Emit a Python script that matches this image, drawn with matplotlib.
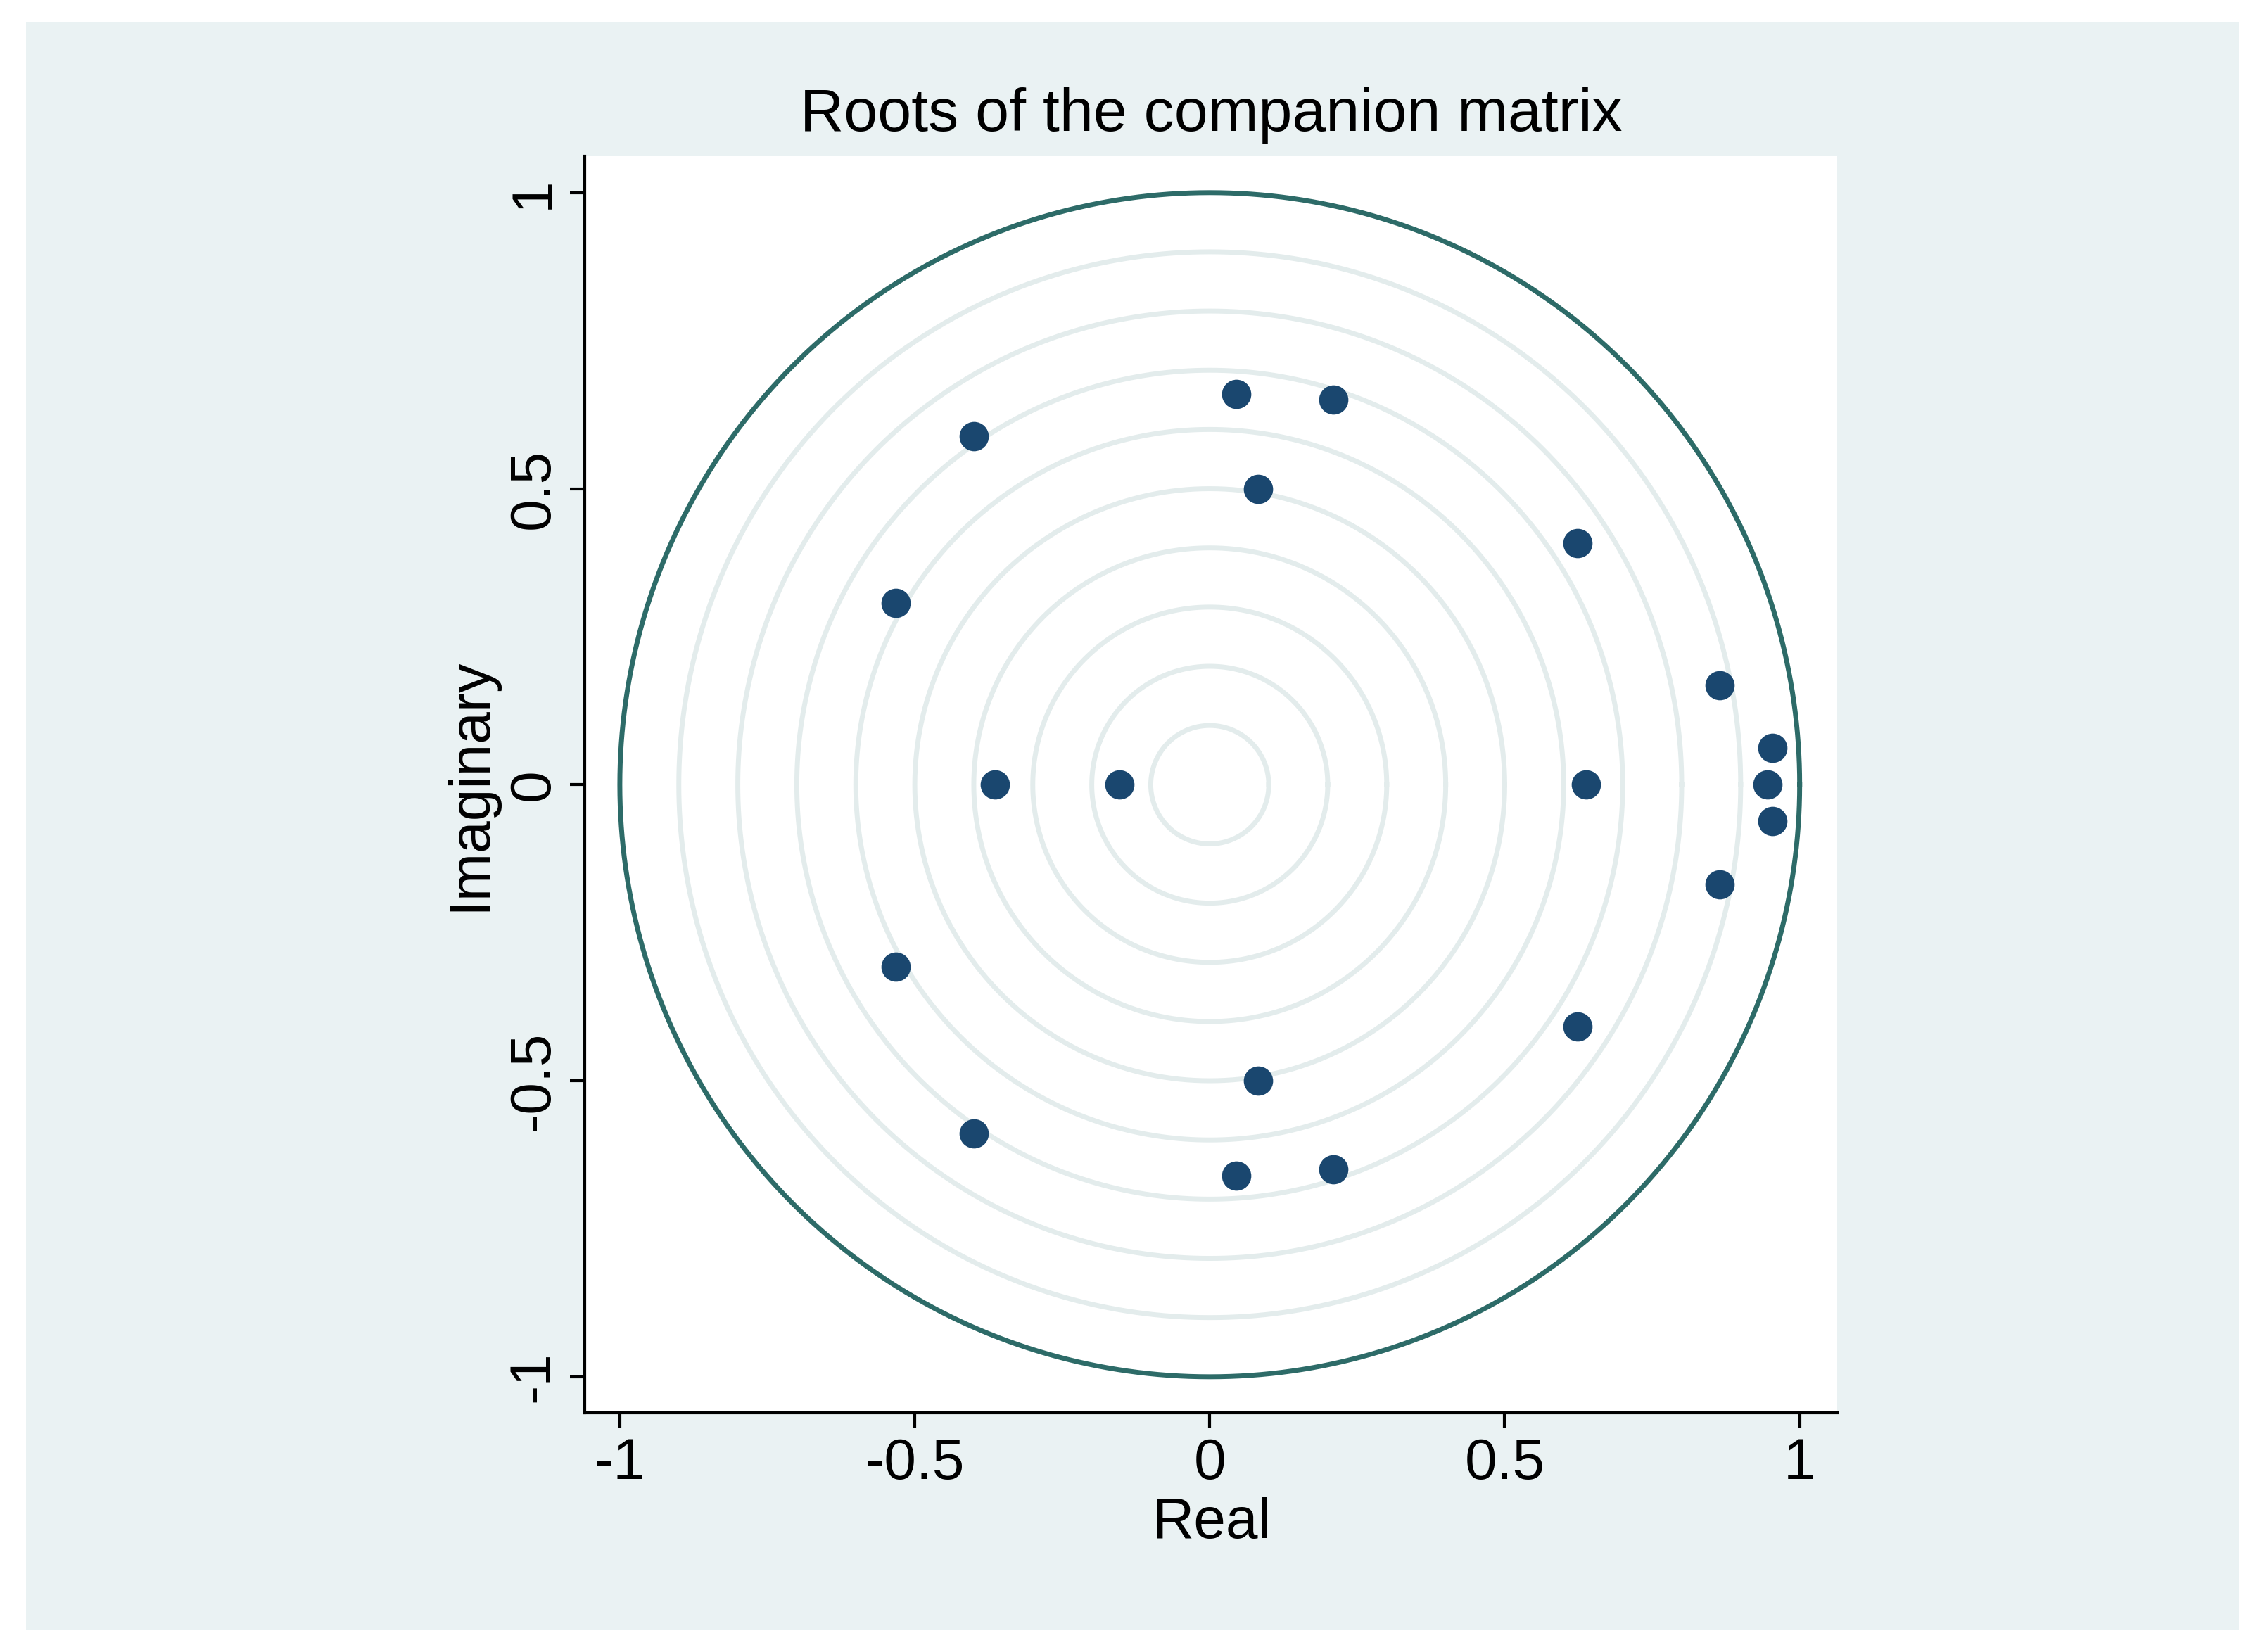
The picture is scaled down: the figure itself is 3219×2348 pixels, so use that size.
import matplotlib
matplotlib.use("Agg")
import matplotlib.pyplot as plt
import numpy as np
from matplotlib.patches import Rectangle

real_upper = [0.045, 0.209, -0.400, 0.082, 0.623, -0.532, 0.865, 0.954]
imag_upper = [0.660, 0.650, 0.589, 0.500, 0.408, 0.307, 0.168, 0.062]
real_axis_roots = [0.946, 0.638, -0.364, -0.153]
ticks = [-1, -0.5, 0, 0.5, 1]
tick_labels = ["-1", "-0.5", "0", "0.5", "1"]
grid_radii = [0.1, 0.2, 0.3, 0.4, 0.5, 0.6, 0.7, 0.8, 0.9]

re = np.array(real_upper + real_upper + real_axis_roots)
im = np.array(imag_upper + [-v for v in imag_upper] + [0.0] * len(real_axis_roots))

plt.rcParams['font.family'] = ['Liberation Sans', 'DejaVu Sans']
fig = plt.figure(figsize=(32.19, 23.48), dpi=100)
fig.patch.set_facecolor("white")
fig.add_artist(Rectangle((18/1568, 15/1140), (1550-18)/1568, (1125-15)/1140,
                         transform=fig.transFigure, facecolor="#EAF2F3", edgecolor="none", zorder=-10))
ax = fig.add_axes([405/1568, 1-975/1140, (1272-405)/1568, (975-108)/1140])
ax.set_facecolor("white")
t = np.linspace(0, 2*np.pi, 721)
for r in grid_radii:
    ax.plot(r*np.cos(t), r*np.sin(t), color="#E3ECEC", lw=5, zorder=1)
ax.plot(np.cos(t), np.sin(t), color="#2D6B68", lw=5, zorder=2)
ax.plot(re, im, "o", color="#1A476F", markersize=30, zorder=3, markeredgewidth=0)
ax.set_xlim(-1.059, 1.064)
ax.set_ylim(-1.061, 1.061)
ax.set_xticks(ticks)
ax.set_xticklabels(tick_labels)
ax.set_yticks(ticks)
ax.set_yticklabels(tick_labels, rotation=90, va="center")
for s in ["top", "right"]:
    ax.spines[s].set_visible(False)
for s in ["left", "bottom"]:
    ax.spines[s].set_linewidth(3)
ax.tick_params(axis="both", direction="out", length=15, width=3, labelsize=59, pad=10)
ax.set_xlabel("Real", fontsize=59, labelpad=6)
ax.set_ylabel("Imaginary", fontsize=59, labelpad=10)
ax.set_title("Roots of the companion matrix", fontsize=62, pad=26)
fig.savefig("out.png", dpi=100)
